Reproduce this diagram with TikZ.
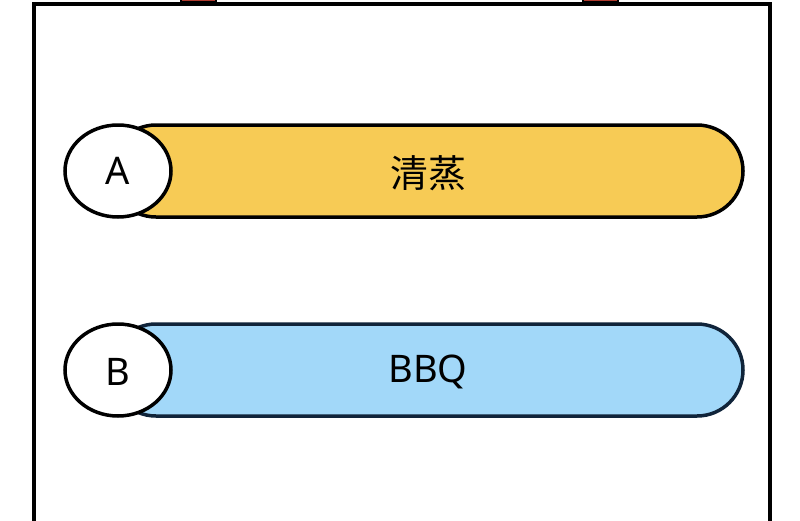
\documentclass[tikz,border=0pt]{standalone}
\usepackage{fontspec}
\setmainfont{Noto Sans}
\newfontfamily\cjk{Noto Sans CJK SC}
\definecolor{ybar}{HTML}{F7CB55}
\definecolor{bbar}{HTML}{A2D8F9}
\definecolor{bedge}{HTML}{10243A}
\definecolor{redtab}{HTML}{B03A2E}
\begin{document}
\begin{tikzpicture}[x=1pt,y=-1pt,line width=3.5pt,
  barA/.style={draw=black,fill=ybar,rounded corners=46pt},
  barB/.style={draw=bedge,fill=bbar,rounded corners=46pt},
  tag/.style={draw=black,fill=white},
  lbl/.style={font=\fontsize{38}{44}\selectfont}]
\useasboundingbox (0,0) rectangle (800,520);
\fill[white] (0,0) rectangle (800,520);
\draw[fill=redtab,line width=2pt] (181,-5) rectangle (216,2);
\draw[fill=redtab,line width=2pt] (583,-5) rectangle (618,2);
\draw[line width=4.5pt] (34,525) -- (34,4) -- (770,4) -- (770,525);
\draw[barA] (110,125) rectangle (743,217);
\draw[tag] (118,171) ellipse [x radius=53, y radius=46];
\node[lbl] (a) at (118,171) {A};
\node[lbl] (ta) at (428,173) {\cjk 清蒸};
\draw[barB] (110,324) rectangle (743,416);
\draw[tag] (118,370) ellipse [x radius=53, y radius=46];
\node[lbl] (b) at (118,372) {B};
\node[lbl] (tb) at (428,372) {BBQ};
\end{tikzpicture}
\end{document}
